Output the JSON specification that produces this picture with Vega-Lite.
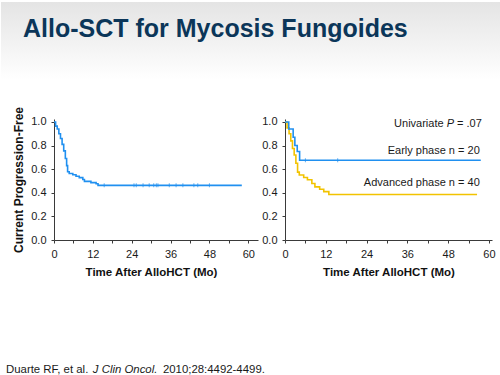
{
  "$schema": "https://vega.github.io/schema/vega-lite/v6.json",
  "padding": {"left": 0, "top": 2, "right": 0, "bottom": 0},
  "background": "#ffffff",
  "spacing": 10,
  "config": {
    "font": "Liberation Sans",
    "view": {"stroke": null},
    "axis": {
      "grid": false,
      "domainColor": "#3a3a3a",
      "domainWidth": 1,
      "tickColor": "#3a3a3a",
      "tickSize": 3,
      "labelFont": "Liberation Sans",
      "labelFontSize": 11,
      "labelColor": "#1a1a1a",
      "titleFont": "Liberation Sans",
      "titleFontSize": 12,
      "titleFontWeight": "bold",
      "titleColor": "#111111",
      "labelOverlap": false
    },
    "axisX": {"labelPadding": 5, "titlePadding": 7, "titleFontSize": 11.5, "labelFlush": false},
    "axisY": {"labelPadding": 5, "titlePadding": 5}
  },
  "datasets": {
    "overall": [
      {"t": 0, "s": 1.0}, {"t": 0.5, "s": 0.965}, {"t": 1.0, "s": 0.94}, {"t": 1.5, "s": 0.9},
      {"t": 2.0, "s": 0.86}, {"t": 2.5, "s": 0.81}, {"t": 3.0, "s": 0.755}, {"t": 3.5, "s": 0.69},
      {"t": 3.9, "s": 0.63}, {"t": 4.2, "s": 0.578}, {"t": 4.7, "s": 0.563}, {"t": 5.8, "s": 0.553},
      {"t": 6.8, "s": 0.54}, {"t": 7.8, "s": 0.528}, {"t": 8.9, "s": 0.513}, {"t": 9.4, "s": 0.497},
      {"t": 11.4, "s": 0.486}, {"t": 13.0, "s": 0.477}, {"t": 13.6, "s": 0.463}, {"t": 58.0, "s": 0.463}
    ],
    "overallCensor": [
      {"t": 15.5, "s": 0.463}, {"t": 24.7, "s": 0.463}, {"t": 25.4, "s": 0.463}, {"t": 27.5, "s": 0.463},
      {"t": 29.4, "s": 0.463}, {"t": 30.8, "s": 0.463}, {"t": 31.6, "s": 0.463}, {"t": 32.1, "s": 0.463},
      {"t": 35.6, "s": 0.463}, {"t": 37.7, "s": 0.463}, {"t": 39.8, "s": 0.463}, {"t": 43.2, "s": 0.463},
      {"t": 44.4, "s": 0.463}, {"t": 48.0, "s": 0.463}
    ],
    "phase": [
      {"group": "Advanced phase", "t": 0, "s": 1.0}, {"group": "Advanced phase", "t": 0.6, "s": 0.95},
      {"group": "Advanced phase", "t": 1.2, "s": 0.9}, {"group": "Advanced phase", "t": 1.7, "s": 0.84},
      {"group": "Advanced phase", "t": 2.2, "s": 0.775}, {"group": "Advanced phase", "t": 2.7, "s": 0.72},
      {"group": "Advanced phase", "t": 3.2, "s": 0.65}, {"group": "Advanced phase", "t": 3.7, "s": 0.575},
      {"group": "Advanced phase", "t": 4.2, "s": 0.55}, {"group": "Advanced phase", "t": 5.5, "s": 0.53},
      {"group": "Advanced phase", "t": 6.6, "s": 0.51}, {"group": "Advanced phase", "t": 7.9, "s": 0.478},
      {"group": "Advanced phase", "t": 8.8, "s": 0.45}, {"group": "Advanced phase", "t": 10.2, "s": 0.43},
      {"group": "Advanced phase", "t": 11.4, "s": 0.41}, {"group": "Advanced phase", "t": 12.9, "s": 0.385},
      {"group": "Advanced phase", "t": 56.5, "s": 0.385},
      {"group": "Early phase", "t": 0, "s": 1.0}, {"group": "Early phase", "t": 1.1, "s": 0.94},
      {"group": "Early phase", "t": 2.4, "s": 0.87}, {"group": "Early phase", "t": 2.9, "s": 0.8},
      {"group": "Early phase", "t": 3.6, "s": 0.75}, {"group": "Early phase", "t": 4.3, "s": 0.675},
      {"group": "Early phase", "t": 57.6, "s": 0.675}
    ],
    "earlyCensor": [{"t": 6.0, "s": 0.675}, {"t": 15.5, "s": 0.675}],
    "notes": [
      {"key": "uni1", "label": "Univariate", "t": 57.9, "s": 0.983},
      {"key": "uni2", "label": "P", "t": 57.9, "s": 0.983},
      {"key": "uni3", "label": "= .07", "t": 57.9, "s": 0.983},
      {"key": "early", "label": "Early phase n = 20", "t": 57.3, "s": 0.752},
      {"key": "adv", "label": "Advanced phase n = 40", "t": 57.3, "s": 0.48}
    ],
    "heading": [{"label": "Allo-SCT for Mycosis Fungoides"}],
    "cite": [
      {"part": 1, "label": "Duarte RF, et al."},
      {"part": 2, "label": "J Clin Oncol."},
      {"part": 3, "label": "2010;28:4492-4499."}
    ]
  },
  "vconcat": [
    {
      "width": 447,
      "height": 93.5,
      "data": {"name": "heading"},
      "encoding": {
        "x": {"datum": 0, "type": "quantitative", "scale": {"domain": [0, 1], "nice": false, "zero": false}, "axis": null},
        "y": {"datum": 1, "type": "quantitative", "scale": {"domain": [0, 1], "nice": false, "zero": false}, "axis": null}
      },
      "layer": [
        {
          "mark": {
            "type": "rect",
            "clip": false,
            "color": {
              "gradient": "linear", "x1": 0, "y1": 0, "x2": 0, "y2": 1,
              "stops": [{"offset": 0, "color": "#e4e4e4"}, {"offset": 0.83, "color": "#ffffff"}, {"offset": 1, "color": "#ffffff"}]
            }
          },
          "encoding": {
            "x": {"datum": -0.11857, "type": "quantitative"},
            "x2": {"datum": 1},
            "y2": {"datum": 0}
          }
        },
        {
          "mark": {"type": "text", "align": "left", "baseline": "alphabetic", "dx": -31, "dy": 34.7,
                   "fontSize": 25, "fontWeight": "bold", "font": "Liberation Sans", "color": "#0b3659"},
          "encoding": {"text": {"field": "label"}}
        }
      ]
    },
    {
      "spacing": 3,
      "hconcat": [
        {
          "width": 204,
          "height": 121,
          "encoding": {
            "x": {"field": "t", "type": "quantitative", "scale": {"domain": [0, 63], "nice": false, "zero": false},
                  "axis": {"title": "Time After AlloHCT (Mo)", "titleX": 97, "labelOverlap": false, "values": [0, 6, 12, 18, 24, 30, 36, 42, 48, 54, 60],
                           "labelExpr": "datum.value % 12 === 0 ? datum.label : ''"}},
            "y": {"field": "s", "type": "quantitative", "scale": {"domain": [0, 1.025], "nice": false, "zero": false},
                  "axis": {"title": "Current Progression-Free", "labelOverlap": false, "values": [0, 0.2, 0.4, 0.6, 0.8, 1.0], "format": ".1f"}}
          },
          "layer": [
            {
              "data": {"name": "overall"},
              "mark": {"type": "line", "interpolate": "step-after", "color": "#2090f0", "strokeWidth": 1.6},
              "encoding": {"order": {"field": "t"}}
            },
            {
              "data": {"name": "overallCensor"},
              "mark": {"type": "tick", "orient": "vertical", "color": "#2090f0", "size": 4, "thickness": 1}
            }
          ]
        },
        {
          "width": 207,
          "height": 121,
          "encoding": {
            "x": {"field": "t", "type": "quantitative", "scale": {"domain": [0, 60.9], "nice": false, "zero": false},
                  "axis": {"title": "Time After AlloHCT (Mo)", "labelOverlap": false, "values": [0, 6, 12, 18, 24, 30, 36, 42, 48, 54, 60],
                           "labelExpr": "datum.value % 12 === 0 ? datum.label : ''"}},
            "y": {"field": "s", "type": "quantitative", "scale": {"domain": [0, 1.025], "nice": false, "zero": false},
                  "axis": {"title": null, "labelOverlap": false, "values": [0, 0.2, 0.4, 0.6, 0.8, 1.0], "format": ".1f"}}
          },
          "layer": [
            {
              "data": {"name": "phase"},
              "mark": {"type": "line", "interpolate": "step-after", "strokeWidth": 1.6},
              "encoding": {
                "color": {"field": "group", "type": "nominal", "scale": {"domain": ["Early phase", "Advanced phase"], "range": ["#2090f0", "#f2c300"]}, "legend": null},
                "order": {"field": "t"}
              }
            },
            {
              "data": {"name": "earlyCensor"},
              "mark": {"type": "tick", "orient": "vertical", "color": "#2090f0", "size": 4, "thickness": 1}
            },
            {
              "data": {"name": "notes"},
              "transform": [{"filter": "datum.key === 'uni1'"}],
              "mark": {"type": "text", "align": "right", "baseline": "middle", "fontSize": 11, "color": "#1a1a1a", "dx": -38.2},
              "encoding": {"text": {"field": "label"}}
            },
            {
              "data": {"name": "notes"},
              "transform": [{"filter": "datum.key === 'uni2'"}],
              "mark": {"type": "text", "align": "right", "baseline": "middle", "fontSize": 11, "fontStyle": "italic", "color": "#1a1a1a", "dx": -27.8},
              "encoding": {"text": {"field": "label"}}
            },
            {
              "data": {"name": "notes"},
              "transform": [{"filter": "datum.key === 'uni3' || datum.key === 'early' || datum.key === 'adv'"}],
              "mark": {"type": "text", "align": "right", "baseline": "middle", "fontSize": 11, "color": "#1a1a1a"},
              "encoding": {"text": {"field": "label"}}
            }
          ]
        }
      ]
    },
    {
      "width": 447,
      "height": 82,
      "data": {"name": "cite"},
      "encoding": {
        "x": {"datum": 0, "type": "quantitative", "scale": {"domain": [0, 1], "nice": false, "zero": false}, "axis": null},
        "y": {"datum": 0, "type": "quantitative", "scale": {"domain": [0, 1], "nice": false, "zero": false}, "axis": null},
        "text": {"field": "label"}
      },
      "layer": [
        {
          "transform": [{"filter": "datum.part === 1"}],
          "mark": {"type": "text", "align": "left", "baseline": "middle", "fontSize": 11.4, "color": "#1a1a1a", "dx": -48}
        },
        {
          "transform": [{"filter": "datum.part === 2"}],
          "mark": {"type": "text", "align": "left", "baseline": "middle", "fontSize": 11.4, "fontStyle": "italic", "color": "#1a1a1a", "dx": 38.8}
        },
        {
          "transform": [{"filter": "datum.part === 3"}],
          "mark": {"type": "text", "align": "left", "baseline": "middle", "fontSize": 11.4, "color": "#1a1a1a", "dx": 108.9}
        }
      ]
    }
  ]
}
